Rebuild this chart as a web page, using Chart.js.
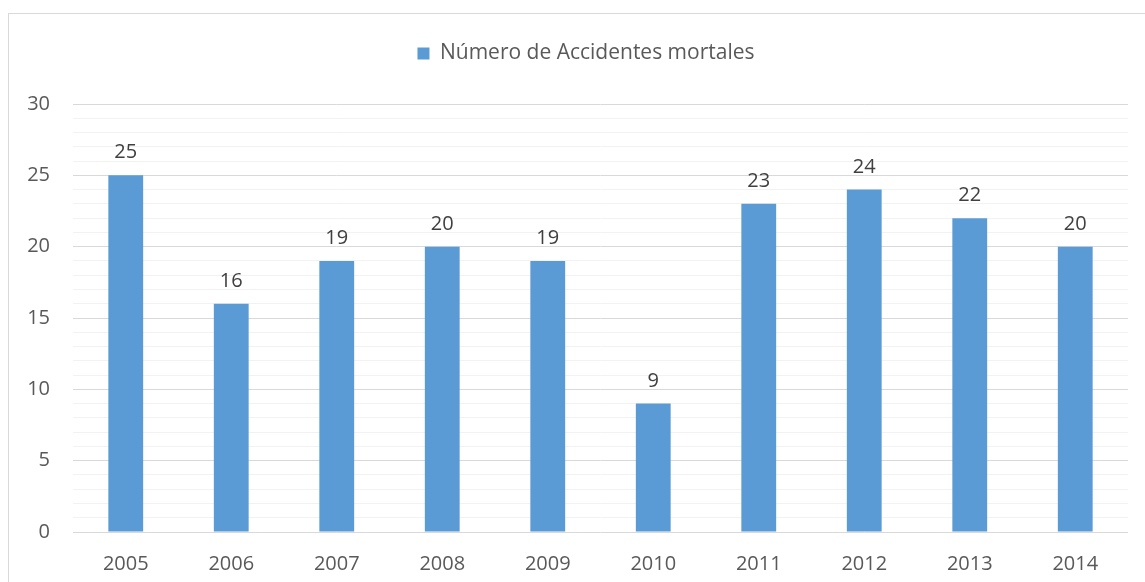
<!DOCTYPE html>
<html>
<head>
<meta charset="utf-8">
<script src="https://cdn.jsdelivr.net/npm/chart.js@4/dist/chart.umd.min.js"></script>
<style>
  body { margin: 0; background: #fff; }
  #frame { position: absolute; left: 8px; top: 13px; width: 1150px; height: 600px; border: 1px solid #d9d9d9; box-sizing: border-box; }
  #wrap { position: absolute; left: 0; top: 0; width: 1145px; height: 582px; }
</style>
</head>
<body>
<div id="frame"></div>
<div id="wrap"><canvas id="myChart"></canvas></div>
<script>
const years = ["2005", "2006", "2007", "2008", "2009", "2010", "2011", "2012", "2013", "2014"];
const accidents = [25, 16, 19, 20, 19, 9, 23, 24, 22, 20];
const seriesLabel = "Número de Accidentes mortales";
const yMin = 0;
const yMax = 30;
const yMajorStep = 5;

const FONT = "'Open Sans', sans-serif";

// numbers above the bars
const valueLabels = {
    id: "valueLabels",
    afterDatasetsDraw(chart) {
        const ctx = chart.ctx;
        const meta = chart.getDatasetMeta(0);
        ctx.save();
        ctx.font = "20px " + FONT;
        ctx.fillStyle = "#404040";
        ctx.textAlign = "center";
        ctx.textBaseline = "alphabetic";
        meta.data.forEach((bar, i) => {
            ctx.fillText(String(accidents[i]), bar.x, bar.y - 17);
        });
        ctx.restore();
    }
};

Chart.register(valueLabels);

const ctx = document.getElementById("myChart").getContext("2d");
new Chart(ctx, {
    type: "bar",
    data: {
        labels: years,
        datasets: [
            {
                label: seriesLabel,
                data: accidents,
                backgroundColor: "#5b9bd5",
                borderWidth: 0,
                barPercentage: 0.33,
                categoryPercentage: 1,
            }
        ]
    },
    options: {
        responsive: true,
        maintainAspectRatio: false,
        animation: false,
        layout: {
            padding: {top: 23, right: 0, bottom: 0, left: 27}
        },
        plugins: {
            tooltip: {enabled: false},
            legend: {
                position: "top",
                labels: {
                    font: {family: FONT, size: 21},
                    color: "#595959",
                    boxWidth: 12,
                    boxHeight: 12,
                    padding: 20,
                }
            },
            // empty title used as a spacer between legend and plot
            title: {
                display: true,
                text: " ",
                weight: 500,
                font: {size: 10},
                padding: {top: 0, bottom: 18},
            }
        },
        scales: {
            x: {
                grid: {display: false},
                border: {display: false},
                ticks: {
                    font: {family: FONT, size: 20},
                    color: "#595959",
                    padding: 12,
                    maxRotation: 0,
                },
                afterFit(scale) { scale.height = 50; }
            },
            y: {
                min: yMin,
                max: yMax,
                border: {display: false},
                grid: {
                    drawTicks: false,
                    color: c => (c.tick.value % yMajorStep === 0 ? "#d9d9d9" : "#f2f2f2"),
                    lineWidth: 1,
                },
                ticks: {
                    stepSize: 1,
                    autoSkip: false,
                    font: {family: FONT, size: 20},
                    color: "#595959",
                    padding: 23,
                    callback: v => (v % yMajorStep === 0 ? v : ""),
                },
                afterFit(scale) { scale.width = 46; }
            },
            // blank right margin so the legend centres like the original
            yRight: {
                position: "right",
                min: yMin,
                max: yMax,
                grid: {display: false},
                border: {display: false},
                ticks: {display: false},
                afterFit(scale) { scale.width = 17; }
            }
        }
    }
});
</script>
</body>
</html>
